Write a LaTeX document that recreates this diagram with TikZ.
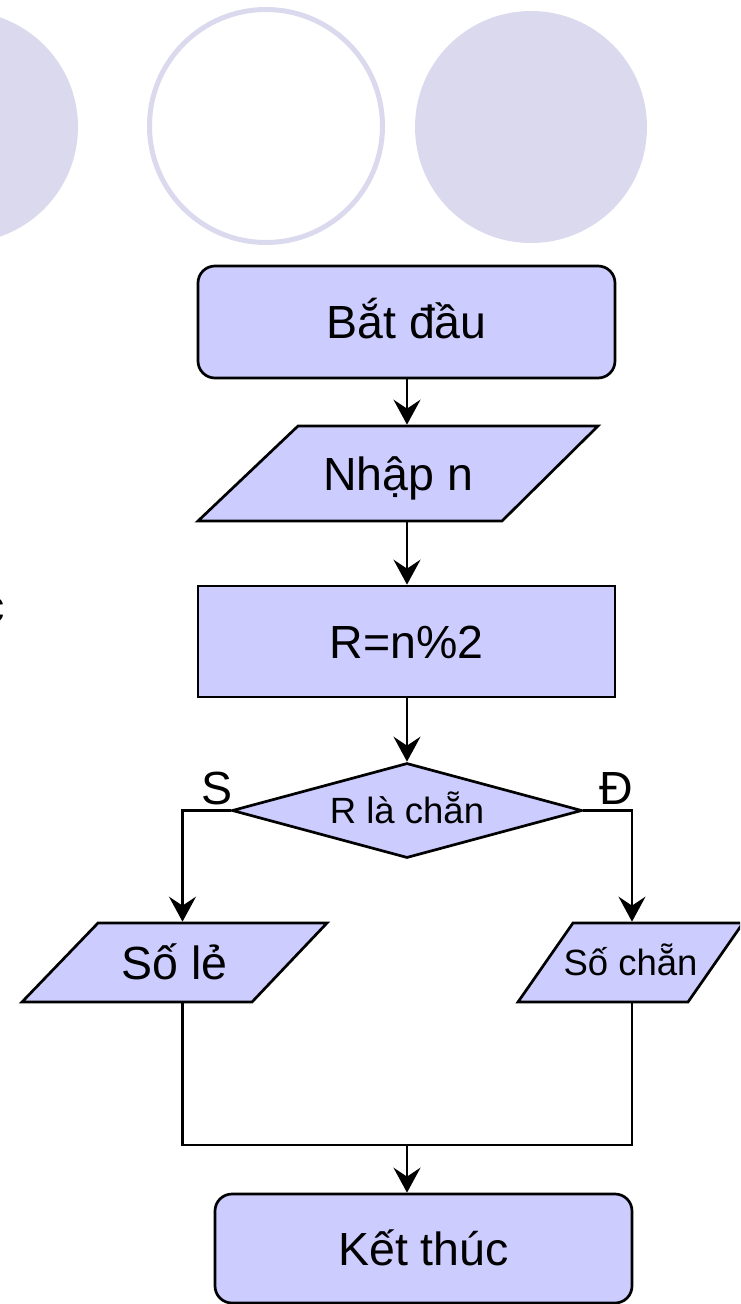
\documentclass[tikz,border=0pt]{standalone}
\usepackage{fontspec}
\setmainfont{Liberation Sans}
\usetikzlibrary{shapes.geometric,arrows.meta}
\definecolor{boxfill}{RGB}{204,204,255}
\definecolor{deco}{RGB}{219,217,237}
\begin{document}
\begin{tikzpicture}[x=1pt,y=-1pt,
  line width=2.7pt,
  bigtext/.style={font=\fontsize{46.5pt}{55pt}\selectfont, text height=33pt, text depth=0pt, inner sep=0pt},
  smalltext/.style={font=\fontsize{36.5pt}{43pt}\selectfont, text height=26pt, text depth=0pt, inner sep=0pt},
  terminal/.style={bigtext, draw, fill=boxfill, rounded corners=17pt, minimum width=417pt, minimum height=112pt},
  process/.style={bigtext, draw, fill=boxfill, minimum width=417pt, minimum height=111pt},
  decision/.style={smalltext, diamond, draw, fill=boxfill, minimum width=350pt, minimum height=95pt, shape aspect=3.68},
  iobox/.style={draw, fill=boxfill, line join=miter},
  flow/.style={-{Stealth[length=25pt,width=27pt,inset=9pt]}},
]
\useasboundingbox (0,0) rectangle (740,1304);
\clip (0,0) rectangle (740,1304);

% decorative discs along the top
\fill[deco] (-38,127) circle[radius=116pt];
\draw[deco, line width=5pt] (266,126) circle[radius=116.5pt];
\fill[deco] (531,127) circle[radius=116pt];

% cut-off letter at the left margin
\node[bigtext, anchor=base east] (margin) at (6,622) {c};

% input/output parallelograms
\draw[iobox] (198,521) -- (298,426) -- (598,426) -- (502,521) -- cycle;
\draw[iobox] (22,1002) -- (98,923) -- (327,923) -- (252,1002) -- cycle;
\draw[iobox] (518,1002) -- (573,923) -- (743,923) -- (688,1002) -- cycle;

% flowchart nodes
\node[terminal] (start) at (406.5,322) {Bắt đầu};
\node[bigtext, minimum height=95pt] (input) at (398,473.5) {Nhập n};
\node[process] (calc) at (406.5,641.5) {R=n\%2};
\node[decision] (cond) at (407,810.5) {R là chẵn};
\node[bigtext, minimum height=79pt] (odd) at (174.5,962.5) {Số lẻ};
\node[smalltext, minimum height=79pt] (even) at (630.5,962.5) {Số chẵn};
\node[terminal, minimum height=109pt] (finish) at (423.5,1248.5) {Kết thúc};

% branch labels
\node[bigtext] (no) at (217,787.5) {S};
\node[bigtext] (yes) at (616.5,787.5) {Đ};

% connectors, all on the central axis x = 407
\coordinate (merge) at (407,1145);
\draw[flow] (merge |- start.south) -- (merge |- input.north);
\draw[flow] (merge |- input.south) -- (merge |- calc.north);
\draw[flow] (merge |- calc.south) -- (cond.north);
\draw[flow] (cond.west) -| ([xshift=8pt]odd.north);
\draw[flow] (cond.east) -| ([xshift=1.5pt]even.north);
\draw ([xshift=8pt]odd.south) |- (merge) -| ([xshift=1.5pt]even.south);
\draw[flow] (merge) -- (merge |- finish.north);
\end{tikzpicture}
\end{document}
